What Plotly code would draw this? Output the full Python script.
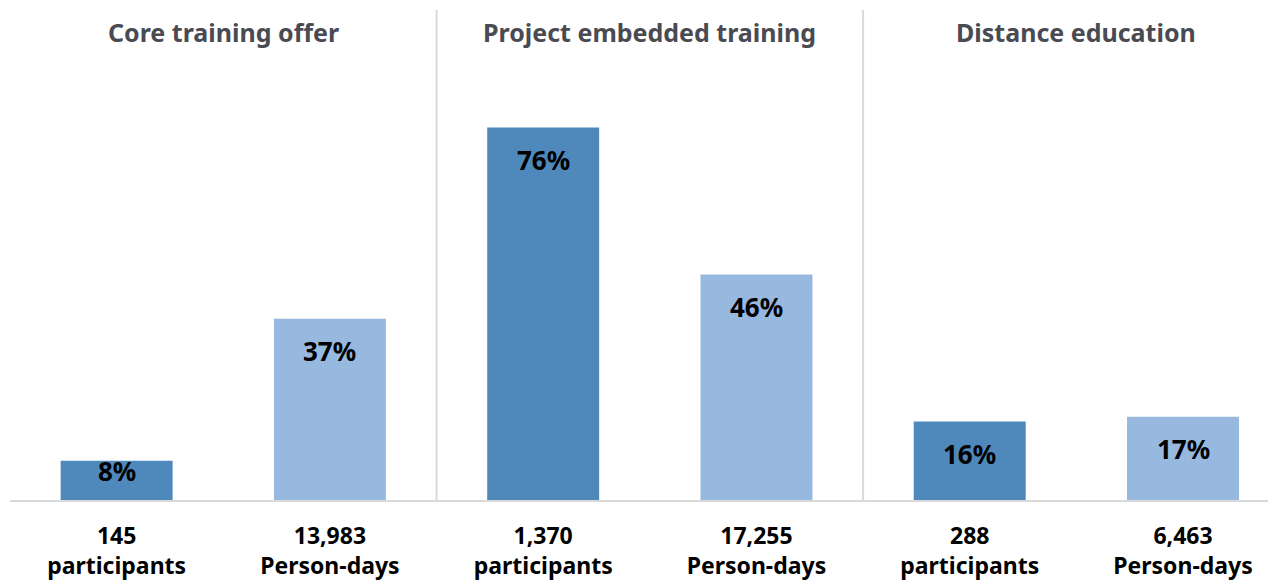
import plotly.graph_objects as go

groups = ["Core training offer", "Project embedded training", "Distance education"]
tick_labels = ["145<br>participants", "13,983<br>Person-days",
               "1,370<br>participants", "17,255<br>Person-days",
               "288<br>participants", "6,463<br>Person-days"]
shares = [8, 37, 76, 46, 16, 17]
kinds = ["participants", "days", "participants", "days", "participants", "days"]

colors = {"participants": "#4f89bc", "days": "#97b9e0"}
x = list(range(len(shares)))

fig = go.Figure()
fig.add_trace(go.Bar(
    x=x, y=shares,
    marker=dict(color=[colors[k] for k in kinds], line=dict(width=0)),
    width=0.525,
    hoverinfo="skip",
))

# labels sit ~32px below the bar top, or near the top when the bar is short
px_per_unit = 490 / 100
for xi, v in zip(x, shares):
    h = v * px_per_unit
    shift = -32 if h >= 64 else -h / 4
    fig.add_annotation(x=xi, y=v, text=f"<b>{v}%</b>", showarrow=False,
                       yanchor="middle", yshift=shift,
                       font=dict(size=26, color="black", family="Noto Sans"))

for i, g in enumerate(groups):
    fig.add_annotation(x=2 * i + 0.5, y=0.955, yref="paper", text=f"<b>{g}</b>",
                       showarrow=False, yanchor="middle",
                       font=dict(size=25, color="#4a4a52", family="Noto Sans"))

for xd in [1.5, 3.5]:
    fig.add_shape(type="line", x0=xd, x1=xd, y0=0, y1=1, yref="paper",
                  line=dict(color="#d9d9d9", width=2))

fig.update_layout(
    width=1268, height=574,
    margin=dict(l=2, r=0, t=2, b=82),
    paper_bgcolor="white", plot_bgcolor="white",
    showlegend=False,
    font=dict(family="Noto Sans", color="black"),
    xaxis=dict(range=[-0.5, 5.436], tickmode="array", tickvals=x,
               ticktext=[f"<b>{t}</b>".replace("<br>", "</b><br><b>") for t in tick_labels],
               tickfont=dict(size=23, color="black"), showline=True,
               linecolor="#d9d9d9", linewidth=2, ticks="", showgrid=False,
               zeroline=False, ticklabelstandoff=14),
    yaxis=dict(range=[0, 100], visible=False, showgrid=False, zeroline=False),
)

fig.write_html("out.html")
